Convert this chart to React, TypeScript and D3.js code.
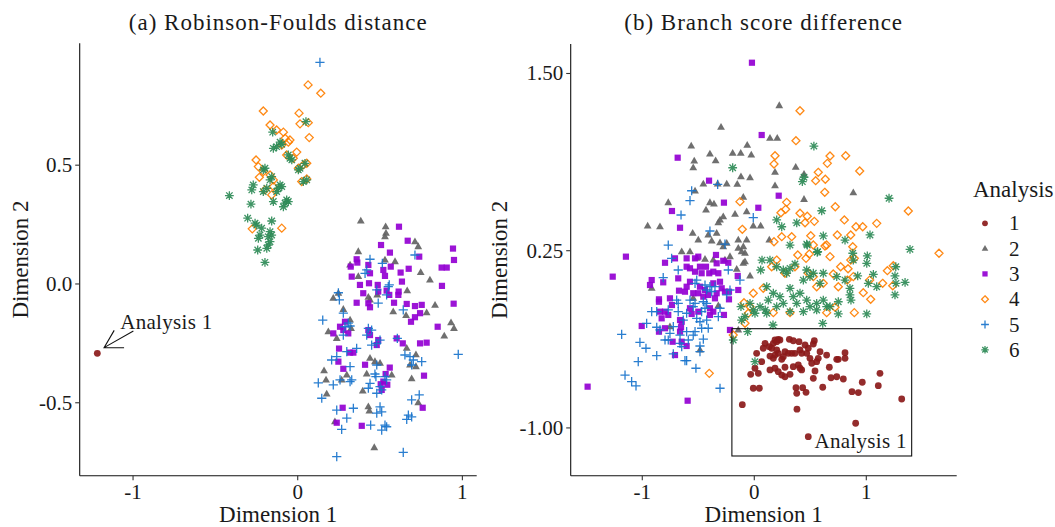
import React from "react";
import * as d3 from "d3";

const W = 1055;
const H = 527;
const FONT = "'Liberation Serif', 'Times New Roman', serif";

const analyses = ["1", "2", "3", "4", "5", "6"];
const colors = ["#8B1A1A", "#636363", "#9400D3", "#FF7F00", "#1874CD", "#2E8B57"];

// ---------- (a) Robinson-Foulds distance ----------
const rfXTicks = [-1, 0, 1];
const rfYTicks = [-0.5, 0, 0.5];
const rfXTickLabels = ["-1", "0", "1"];
const rfYTickLabels = ["-0.5", "0.0", "0.5"];

const rf1: [number, number][] = [[-1.217, -0.292]];
const rf2: [number, number][] = [
  [0.383, 0.265], [0.534, 0.241], [0.536, 0.213], [0.53, 0.199], [0.368, 0.136], [0.712, 0.178],
  [0.732, 0.157], [0.53, 0.101], [0.591, 0.094], [0.318, 0.08], [0.368, 0.031], [0.747, 0.048],
  [0.803, 0.017], [0.665, -0.029], [0.483, -0.046], [0.439, -0.067], [0.429, -0.056], [0.216, -0.06],
  [0.247, -0.039], [0.58, -0.117], [0.658, -0.133], [0.783, -0.121], [0.834, -0.09], [0.931, -0.163],
  [0.949, -0.187], [0.89, -0.219], [0.186, -0.201], [0.237, -0.229], [0.277, -0.107], [0.318, -0.152],
  [0.662, -0.271], [0.718, -0.298], [0.439, -0.313], [0.469, -0.327], [0.682, -0.341], [0.718, -0.348],
  [0.16, -0.365], [0.172, -0.404], [0.298, -0.383], [0.267, -0.404], [0.419, -0.379], [0.571, -0.383],
  [0.692, -0.399], [0.395, -0.451], [0.176, -0.463], [0.732, -0.5], [0.429, -0.517], [0.435, -0.535],
  [0.226, -0.58], [0.465, -0.689], [0.5, -0.334], [0.324, -0.187],
];
const rf3: [number, number][] = [
  [0.615, 0.241], [0.506, 0.164], [0.668, 0.182], [0.56, 0.132], [0.738, 0.115], [0.943, 0.149],
  [0.949, 0.101], [0.358, 0.104], [0.362, 0.09], [0.322, 0.073], [0.328, 0.031], [0.429, 0.08],
  [0.439, 0.045], [0.52, 0.059], [0.53, 0.034], [0.565, 0.073], [0.625, 0.048], [0.633, 0.01],
  [0.674, 0.064], [0.874, 0.069], [0.905, 0.069], [0.876, -0.008], [0.378, -0.004], [0.398, -0.039],
  [0.433, 0.003], [0.486, -0.004], [0.489, -0.032], [0.429, -0.081], [0.439, -0.098], [0.358, -0.079],
  [0.54, -0.028], [0.556, -0.046], [0.585, -0.079], [0.611, -0.046], [0.613, -0.032], [0.662, -0.084],
  [0.712, -0.093], [0.753, -0.088], [0.743, -0.123], [0.712, -0.14], [0.688, -0.159], [0.947, -0.083],
  [0.85, -0.18], [0.257, -0.18], [0.287, -0.159], [0.307, -0.208], [0.216, -0.208], [0.277, -0.194],
  [0.429, -0.194], [0.439, -0.215], [0.489, -0.236], [0.48, -0.257], [0.601, -0.229], [0.638, -0.25],
  [0.743, -0.25], [0.783, -0.247], [0.251, -0.272], [0.247, -0.327], [0.318, -0.289], [0.338, -0.289],
  [0.409, -0.34], [0.559, -0.352], [0.534, -0.379], [0.52, -0.411], [0.504, -0.422], [0.51, -0.446],
  [0.544, -0.424], [0.277, -0.357], [0.767, -0.386], [0.273, -0.521], [0.237, -0.584], [0.389, -0.597],
  [0.759, -0.521],
];
const rf4: [number, number][] = [
  [0.063, 0.838], [0.14, 0.803], [-0.209, 0.728], [0.008, 0.719], [0.014, 0.674], [0.064, 0.679],
  [-0.168, 0.669], [-0.128, 0.648], [-0.087, 0.639], [0.07, 0.616], [-0.077, 0.613], [-0.057, 0.597],
  [-0.097, 0.585], [-0.253, 0.522], [-0.067, 0.543], [-0.006, 0.555], [-0.027, 0.529], [0.004, 0.487],
  [0.034, 0.501], [0.055, 0.508], [-0.239, 0.494], [-0.209, 0.473], [-0.233, 0.449], [-0.168, 0.459],
  [-0.148, 0.438], [0.024, 0.431], [0.055, 0.442], [-0.199, 0.396], [-0.158, 0.375], [-0.148, 0.41],
  [-0.276, 0.232], [-0.097, 0.235], [-0.047, 0.606],
];
const rf5: [number, number][] = [
  [0.135, 0.933], [0.439, 0.104], [0.419, 0.059], [0.409, 0.045], [0.514, 0.087], [0.712, 0.122],
  [0.556, -0.004], [0.55, -0.011], [0.48, -0.025], [0.54, -0.046], [0.489, -0.081], [0.247, -0.037],
  [0.253, -0.067], [0.152, -0.152], [0.277, -0.123], [0.307, -0.165], [0.318, -0.177], [0.287, -0.18],
  [0.277, -0.215], [0.429, -0.187], [0.449, -0.194], [0.419, -0.215], [0.5, -0.236], [0.48, -0.25],
  [0.449, -0.257], [0.605, -0.229], [0.641, -0.109], [0.358, -0.271], [0.318, -0.348], [0.651, -0.299],
  [0.682, -0.306], [0.702, -0.32], [0.692, -0.341], [0.753, -0.327], [0.206, -0.32], [0.237, -0.306],
  [0.298, -0.285], [0.48, -0.341], [0.469, -0.379], [0.475, -0.39], [0.975, -0.296], [0.125, -0.416],
  [0.216, -0.425], [0.257, -0.404], [0.318, -0.411], [0.328, -0.404], [0.439, -0.418], [0.429, -0.439],
  [0.48, -0.46], [0.5, -0.432], [0.51, -0.446], [0.53, -0.39], [0.54, -0.404], [0.146, -0.481],
  [0.738, -0.467], [0.692, -0.488], [0.237, -0.531], [0.338, -0.523], [0.298, -0.565], [0.267, -0.612],
  [0.5, -0.517], [0.51, -0.538], [0.48, -0.544], [0.53, -0.594], [0.54, -0.601], [0.51, -0.615],
  [0.672, -0.552], [0.662, -0.57], [0.692, -0.559], [0.443, -0.594], [0.237, -0.727], [0.641, -0.709],
];
const rf6: [number, number][] = [
  [0.05, 0.683], [-0.152, 0.639], [-0.148, 0.571], [-0.128, 0.578], [-0.097, 0.588], [-0.107, 0.597],
  [-0.057, 0.543], [-0.036, 0.522], [-0.047, 0.529], [0.014, 0.487], [0.044, 0.508], [0.004, 0.48],
  [0.034, 0.431], [0.055, 0.438], [-0.199, 0.487], [-0.209, 0.48], [-0.158, 0.452], [-0.168, 0.438],
  [-0.27, 0.417], [-0.279, 0.396], [-0.107, 0.417], [-0.118, 0.403], [-0.097, 0.41], [-0.128, 0.389],
  [-0.067, 0.354], [-0.077, 0.34], [-0.057, 0.347], [-0.087, 0.325], [-0.148, 0.347], [-0.209, 0.389],
  [-0.188, 0.403], [-0.415, 0.372], [-0.284, 0.336], [-0.304, 0.277], [-0.259, 0.256], [-0.249, 0.248],
  [-0.158, 0.265], [-0.219, 0.235], [-0.229, 0.206], [-0.239, 0.192], [-0.168, 0.22], [-0.179, 0.199],
  [-0.168, 0.178], [-0.179, 0.164], [-0.188, 0.15], [-0.243, 0.143], [-0.199, 0.091], [-0.158, 0.206],
];

// ---------- (b) Branch score difference ----------
const bsXTicks = [-1, 0, 1];
const bsYTicks = [-1, 0.25, 1.5];
const bsXTickLabels = ["-1", "0", "1"];
const bsYTickLabels = ["-1.00", "0.25", "1.50"];

const bs1: [number, number][] = [
  [0.185, -0.38], [0.214, -0.375], [0.17, -0.403], [0.2, -0.392], [0.229, -0.38], [0.096, -0.403],
  [0.08, -0.438], [0.134, -0.427], [0.155, -0.438], [0.313, -0.375], [0.348, -0.385], [0.399, -0.392],
  [0.536, -0.385], [0.527, -0.408], [0.453, -0.415], [0.482, -0.438], [0.2, -0.45], [0.214, -0.474],
  [0.185, -0.486], [0.274, -0.462], [0.304, -0.474], [0.334, -0.474], [0.363, -0.474], [0.408, -0.45],
  [0.423, -0.474], [0.468, -0.474], [0.497, -0.509], [0.587, -0.462], [0.646, -0.486], [0.81, -0.469],
  [0.81, -0.509], [0.736, -0.516], [0.75, -0.516], [0.021, -0.474], [0.14, -0.493], [0.17, -0.509],
  [0.259, -0.498], [0.245, -0.516], [0.571, -0.509], [0.557, -0.533], [0.513, -0.544], [0.066, -0.533],
  [0.006, -0.579], [0.036, -0.615], [-0.032, -0.622], [0.14, -0.591], [0.185, -0.579], [0.214, -0.603],
  [0.245, -0.627], [0.274, -0.639], [0.319, -0.622], [0.274, -0.572], [0.348, -0.568], [0.393, -0.556],
  [0.408, -0.579], [0.423, -0.591], [0.542, -0.598], [0.67, -0.572], [0.527, -0.65], [0.685, -0.646],
  [0.736, -0.639], [0.795, -0.655], [0.964, -0.678], [1.122, -0.615], [1.107, -0.702], [-0.009, -0.72],
  [0.045, -0.72], [0.372, -0.716], [0.432, -0.716], [0.379, -0.756], [0.462, -0.749], [0.611, -0.713],
  [0.872, -0.744], [0.929, -0.751], [1.316, -0.796], [-0.107, -0.836], [0.381, -0.868], [0.905, -0.967],
  [0.482, -1.062],
];
const bs2: [number, number][] = [
  [0.223, 1.273], [-0.297, 1.12], [0.14, 1.043], [0.205, 1.043], [-0.063, 0.993], [-0.563, 0.988],
  [-0.396, 0.932], [-0.345, 0.885], [-0.193, 0.937], [-0.121, 0.937], [-0.027, 0.925], [-0.536, 0.883],
  [-0.545, 0.835], [0.37, 0.838], [0.185, 0.803], [0.444, 0.789], [-0.119, 0.772], [-0.038, 0.765],
  [0.185, 0.708], [-0.455, 0.72], [-0.529, 0.671], [-0.327, 0.72], [-0.246, 0.72], [-0.152, 0.718],
  [0.884, 0.659], [-0.098, 0.627], [0.444, 0.612], [-0.768, 0.589], [-0.431, 0.537], [-0.396, 0.589],
  [-0.36, 0.579], [-0.306, 0.467], [-0.277, 0.49], [-0.321, 0.447], [-0.172, 0.507], [-0.068, 0.525],
  [-0.009, 0.424], [0.057, 0.424], [-0.952, 0.424], [-0.842, 0.419], [-0.55, 0.373], [-0.5, 0.325],
  [-0.411, 0.361], [-0.38, 0.318], [-0.336, 0.373], [-0.306, 0.306], [-0.246, 0.302], [-0.277, 0.278],
  [-0.143, 0.325], [-0.068, 0.325], [-0.143, 0.267], [-0.098, 0.278], [-0.083, 0.232], [-0.113, 0.243],
  [0.134, 0.325], [-0.648, 0.243], [-0.574, 0.243], [-0.44, 0.189], [-0.514, 0.196], [-0.366, 0.184],
  [-0.262, 0.184], [-0.217, 0.208], [-0.083, 0.172], [-0.098, 0.161], [-0.157, 0.119], [-0.038, 0.072],
  [-0.916, -0.015], [-0.753, -0.286], [-0.485, -0.45], [-0.143, -0.309], [-0.321, -0.138], [-0.545, -0.086],
];
const bs3: [number, number][] = [
  [-0.021, 1.576], [0.066, 1.066], [-0.684, 0.906], [-0.404, 0.744], [0.218, 0.638], [-0.271, 0.589],
  [0.036, 0.553], [-0.735, 0.53], [-0.663, 0.412], [-1.146, 0.208], [-1.264, 0.067], [-1.488, -0.709],
  [-0.595, -0.808], [-0.797, 0.165], [-0.708, 0.196], [-0.604, 0.196], [-0.529, 0.196], [-0.5, 0.208],
  [-0.574, 0.126], [-0.604, 0.137], [-0.485, 0.137], [-0.431, 0.137], [-0.529, 0.102], [-0.47, 0.091],
  [-0.402, 0.091], [-0.342, 0.22], [-0.336, 0.161], [-0.277, 0.179], [-0.232, 0.165], [-0.366, 0.102],
  [-0.321, 0.091], [-0.916, 0.043], [-0.931, 0.008], [-0.813, 0.027], [-0.679, 0.055], [-0.574, 0.031],
  [-0.604, -0.004], [-0.619, -0.039], [-0.545, -0.05], [-0.485, -0.004], [-0.44, -0.027], [-0.5, -0.05],
  [-0.411, -0.062], [-0.455, -0.074], [-0.366, 0.02], [-0.306, 0.031], [-0.291, -0.015], [-0.262, -0.039],
  [-0.336, -0.05], [-0.351, -0.086], [-0.148, 0.072], [-0.143, -0.027], [-0.226, -0.039], [-0.226, -0.093],
  [-0.672, -0.032], [-0.851, -0.093], [-0.851, -0.11], [-0.753, -0.086], [-0.735, -0.133], [-0.842, -0.18],
  [-0.827, -0.227], [-0.768, -0.203], [-0.797, -0.18], [-0.663, -0.239], [-0.648, -0.251], [-0.559, -0.196],
  [-0.574, -0.156], [-0.5, -0.18], [-0.396, -0.156], [-0.366, -0.18], [-0.396, -0.203], [-0.271, -0.203],
  [-1.005, -0.281], [-0.851, -0.321], [-0.797, -0.297], [-0.663, -0.321], [-0.654, -0.29], [-0.729, -0.392],
  [-0.648, -0.392], [-0.604, -0.422], [-0.708, -0.486], [-0.217, -0.309],
];
const bs4: [number, number][] = [
  [0.408, 1.237], [0.372, 1.026], [0.185, 0.92], [0.176, 0.861], [0.676, 0.918], [0.652, 0.866],
  [0.816, 0.92], [0.571, 0.803], [0.548, 0.744], [0.634, 0.754], [0.941, 0.812], [0.629, 0.662],
  [-0.128, 0.596], [0.289, 0.591], [0.238, 0.518], [0.28, 0.542], [0.723, 0.56], [1.375, 0.53],
  [-0.107, 0.401], [0.408, 0.514], [0.473, 0.493], [0.536, 0.457], [0.453, 0.447], [0.804, 0.467],
  [1.093, 0.443], [0.908, 0.419], [0.968, 0.419], [0.245, 0.349], [0.334, 0.349], [0.176, 0.313],
  [0.504, 0.356], [0.527, 0.29], [0.741, 0.361], [0.861, 0.361], [0.646, 0.29], [0.631, 0.283],
  [0.879, 0.278], [1.649, 0.232], [0.2, 0.184], [0.388, 0.22], [0.462, 0.196], [0.491, 0.227],
  [0.676, 0.208], [0.861, 0.184], [0.893, 0.196], [0.771, 0.137], [0.837, 0.123], [0.155, 0.137],
  [0.274, 0.091], [0.363, 0.137], [0.482, 0.091], [1.188, 0.109], [1.241, 0.144], [0.705, 0.086],
  [0.83, 0.043], [0.884, 0.067], [1.03, 0.043], [1.146, 0.02], [1.236, 0.003], [0.973, -0.046],
  [1.039, -0.093], [0.08, -0.015], [-0.009, -0.05], [0.527, 0.067], [0.557, -0.004], [0.616, 0.02],
  [0.75, -0.004], [-0.092, -0.117], [-0.038, -0.145], [-0.054, -0.191], [0.17, -0.187], [0.319, -0.187],
  [0.646, -0.187], [0.721, -0.149], [0.893, -0.187], [-0.188, -0.345], [-0.083, -0.262], [-0.402, -0.615],
];
const bs5: [number, number][] = [
  [-0.559, 0.673], [-0.574, 0.603], [-0.327, 0.718], [-0.654, 0.502], [-0.009, 0.483], [-0.396, 0.389],
  [-0.768, 0.29], [-0.738, 0.196], [-0.679, 0.114], [-0.813, 0.06], [-0.262, 0.297], [-0.232, 0.114],
  [-0.128, 0.043], [-0.514, 0.043], [-0.529, 0.02], [-0.44, 0.008], [-0.396, -0.004], [-0.425, -0.027],
  [-0.38, -0.039], [-0.351, -0.004], [-0.246, -0.062], [-0.217, -0.027], [-0.693, -0.098], [-0.679, -0.121],
  [-0.574, -0.098], [-0.529, -0.121], [-0.545, -0.145], [-0.455, -0.11], [-0.425, -0.121], [-0.44, -0.156],
  [-0.47, -0.18], [-0.306, -0.156], [-0.321, -0.215], [-0.916, -0.18], [-0.871, -0.18], [-0.768, -0.168],
  [-0.679, -0.18], [-0.604, -0.191], [-0.634, -0.239], [-0.514, -0.227], [-0.485, -0.251], [-0.425, -0.239],
  [-0.411, -0.297], [-0.47, -0.297], [-0.961, -0.262], [-0.871, -0.29], [-0.842, -0.309], [-0.723, -0.286],
  [-0.753, -0.333], [-0.663, -0.345], [-0.604, -0.321], [-0.545, -0.345], [-0.529, -0.321], [-0.797, -0.38],
  [-0.768, -0.38], [-0.589, -0.38], [-0.455, -0.373], [-1.184, -0.34], [-1.021, -0.396], [-0.967, -0.438],
  [-0.663, -0.403], [-0.648, -0.427], [-0.485, -0.422], [-0.485, -0.462], [-0.871, -0.49], [-0.723, -0.478],
  [-1.036, -0.533], [-0.619, -0.526], [-0.604, -0.526], [-0.521, -0.579], [-1.154, -0.627], [-1.095, -0.674],
  [-1.056, -0.704], [-0.306, -0.72],
];
const bs6: [number, number][] = [
  [0.532, 0.988], [-0.193, 0.835], [0.429, 0.737], [0.444, 0.768], [1.203, 0.62], [0.602, 0.532],
  [0.2, 0.467], [0.245, 0.419], [0.379, 0.447], [1.033, 0.361], [0.616, 0.354], [0.319, 0.29],
  [0.468, 0.297], [0.566, 0.243], [0.81, 0.325], [0.879, 0.232], [0.884, 0.184], [1.009, 0.213],
  [1.004, 0.161], [1.39, 0.26], [1.263, 0.137], [1.256, 0.072], [1.063, 0.083], [0.923, 0.072],
  [1.093, -0.004], [1.346, 0.027], [0.736, 0.067], [0.81, 0.043], [0.854, -0.015], [0.854, -0.062],
  [0.75, -0.11], [0.75, -0.196], [1.004, -0.196], [0.611, -0.262], [0.167, -0.274], [-0.059, -0.321],
  [-0.188, -0.38], [0.006, -0.533], [0.616, 0.091], [0.587, 0.02], [0.069, 0.184], [0.057, 0.114],
  [0.14, 0.184], [0.2, 0.137], [0.259, 0.114], [0.319, 0.126], [0.289, 0.091], [0.363, 0.156],
  [0.468, 0.114], [0.497, 0.067], [0.438, 0.043], [0.527, 0.091], [0.111, -0.004], [0.17, -0.05],
  [0.125, -0.098], [0.229, -0.074], [0.259, -0.121], [0.2, -0.145], [0.319, -0.015], [0.348, -0.074],
  [0.408, -0.05], [0.379, -0.121], [0.468, -0.098], [0.497, -0.145], [0.557, -0.121], [0.616, -0.098],
  [0.676, -0.145], [0.319, -0.18], [0.438, -0.18], [0.557, -0.168], [0.646, -0.145], [-0.038, -0.121],
  [-0.009, -0.168], [0.051, -0.145], [-0.119, -0.145], [-0.083, -0.215], [0.006, -0.191], [0.098, -0.168],
  [0.111, -0.191], [1.018, 0.02], [1.265, 0.02], [1.256, -0.062], [0.863, -0.098], [0.473, 0.29],
  [0.562, 0.239], [-0.113, -0.239],
];

const rfSeries = [rf1, rf2, rf3, rf4, rf5, rf6];
const bsSeries = [bs1, bs2, bs3, bs4, bs5, bs6];

// Annotation data
const rfLabelPos: [number, number] = [-1.078, -0.16];
const rfArrowFrom: [number, number] = [-0.998, -0.198];
const rfArrowTo: [number, number] = [-1.176, -0.268];
const bsRect = { x0: -0.2, x1: 1.405, y0: -1.198, y1: -0.3 };
const bsLabelPos: [number, number] = [1.361, -1.141];

function Marker({ k, x, y, s = 1 }: { k: number; x: number; y: number; s?: number }) {
  const c = colors[k];
  const op = 0.92;
  switch (k) {
    case 0:
      return <circle cx={x} cy={y} r={3.4 * s} fill={c} opacity={op} />;
    case 1: {
      const hw = 3.9 * s;
      return (
        <path
          d={`M${x},${y - 4.3 * s}L${x + hw},${y + 2.5 * s}L${x - hw},${y + 2.5 * s}Z`}
          fill={c}
          opacity={op}
        />
      );
    }
    case 2: {
      const h = 3.1 * s;
      return <rect x={x - h} y={y - h} width={2 * h} height={2 * h} fill={c} opacity={op} />;
    }
    case 3: {
      const h = 4.0 * s;
      return (
        <path
          d={`M${x},${y - h}L${x + h},${y}L${x},${y + h}L${x - h},${y}Z`}
          fill="none"
          stroke={c}
          strokeWidth={1.3}
          opacity={op}
        />
      );
    }
    case 4: {
      const h = 4.6 * s;
      return (
        <path
          d={`M${x - h},${y}H${x + h}M${x},${y - h}V${y + h}`}
          stroke={c}
          strokeWidth={1.3}
          opacity={op}
        />
      );
    }
    default: {
      const h = 4.4 * s;
      const d = 3.2 * s;
      return (
        <path
          d={`M${x - h},${y}H${x + h}M${x},${y - h}V${y + h}M${x - d},${y - d}L${x + d},${y + d}M${x - d},${y + d}L${x + d},${y - d}`}
          stroke={c}
          strokeWidth={1.3}
          opacity={op}
        />
      );
    }
  }
}

type PanelProps = {
  title: string;
  left: number;
  right: number;
  top: number;
  bottom: number;
  xDomain: [number, number];
  yDomain: [number, number];
  xTicks: number[];
  yTicks: number[];
  xTickLabels: string[];
  yTickLabels: string[];
  series: [number, number][][];
  yTitleX: number;
  kind: "rf" | "bs";
};

function Panel(p: PanelProps) {
  const x = d3.scaleLinear().domain(p.xDomain).range([p.left, p.right]);
  const y = d3.scaleLinear().domain(p.yDomain).range([p.bottom, p.top]);
  const tickLen = 4.5;
  const cx = (p.left + p.right) / 2;
  const cy = (p.top + p.bottom) / 2;

  let annot: React.ReactNode = null;
  if (p.kind === "rf") {
    const x1 = x(rfArrowFrom[0]);
    const y1 = y(rfArrowFrom[1]);
    const x2 = x(rfArrowTo[0]);
    const y2 = y(rfArrowTo[1]);
    const ang = Math.atan2(y1 - y2, x1 - x2);
    const L = 20;
    const a1 = ang + Math.PI / 6;
    const a2 = ang - Math.PI / 6;
    annot = (
      <g>
        <path
          d={`M${x1},${y1}L${x2},${y2}M${x2 + L * Math.cos(a1)},${y2 + L * Math.sin(a1)}L${x2},${y2}L${x2 + L * Math.cos(a2)},${y2 + L * Math.sin(a2)}`}
          stroke="#111"
          strokeWidth={1.1}
          fill="none"
        />
        <text
          x={x(rfLabelPos[0])}
          y={y(rfLabelPos[1])}
          fontSize={21}
          fill="#1a1a1a"
          dominantBaseline="central"
          letterSpacing={0.3}
        >
          Analysis 1
        </text>
      </g>
    );
  } else {
    annot = (
      <g>
        <rect
          x={x(bsRect.x0)}
          y={y(bsRect.y1)}
          width={x(bsRect.x1) - x(bsRect.x0)}
          height={y(bsRect.y0) - y(bsRect.y1)}
          fill="none"
          stroke="#111"
          strokeWidth={1.1}
        />
        <text
          x={x(bsLabelPos[0])}
          y={y(bsLabelPos[1])}
          fontSize={21}
          fill="#1a1a1a"
          textAnchor="end"
          letterSpacing={0.3}
        >
          Analysis 1
        </text>
      </g>
    );
  }

  return (
    <g>
      <text x={cx} y={30} textAnchor="middle" fontSize={23} fill="#1a1a1a" letterSpacing={1}>
        {p.title}
      </text>
      <g>
        {p.series.map((pts, k) => (
          <g key={k}>
            {pts.map((d, i) => (
              <Marker key={i} k={k} x={x(d[0])} y={y(d[1])} />
            ))}
          </g>
        ))}
      </g>
      {annot}
      <line x1={p.left} x2={p.right} y1={p.bottom} y2={p.bottom} stroke="#111" strokeWidth={1.1} />
      <line x1={p.left} x2={p.left} y1={p.top} y2={p.bottom} stroke="#111" strokeWidth={1.1} />
      {p.xTicks.map((t, i) => (
        <g key={"xt" + i}>
          <line x1={x(t)} x2={x(t)} y1={p.bottom} y2={p.bottom + tickLen} stroke="#333" strokeWidth={1.1} />
          <text x={x(t)} y={p.bottom + 23.5} textAnchor="middle" fontSize={21} fill="#1a1a1a">
            {p.xTickLabels[i]}
          </text>
        </g>
      ))}
      {p.yTicks.map((t, i) => (
        <g key={"yt" + i}>
          <line x1={p.left - tickLen} x2={p.left} y1={y(t)} y2={y(t)} stroke="#333" strokeWidth={1.1} />
          <text
            x={p.left - tickLen - 3}
            y={y(t)}
            textAnchor="end"
            dominantBaseline="central"
            fontSize={21}
            fill="#1a1a1a"
          >
            {p.yTickLabels[i]}
          </text>
        </g>
      ))}
      <text x={cx} y={522} textAnchor="middle" fontSize={23} fill="#1a1a1a">
        Dimension 1
      </text>
      <text
        transform={`translate(${p.yTitleX},${cy}) rotate(-90)`}
        textAnchor="middle"
        fontSize={23}
        fill="#1a1a1a"
      >
        Dimension 2
      </text>
    </g>
  );
}

function Legend() {
  const y0 = 223.3;
  const step = 25.3;
  return (
    <g>
      <text x={973} y={197} fontSize={23} fill="#1a1a1a">
        Analysis
      </text>
      {analyses.map((a, i) => (
        <g key={a}>
          <Marker k={i} x={985} y={y0 + i * step} s={0.85} />
          <text x={1009} y={y0 + i * step} dominantBaseline="central" fontSize={21} fill="#1a1a1a">
            {a}
          </text>
        </g>
      ))}
    </g>
  );
}

export default function App() {
  return (
    <svg
      width={W}
      height={H}
      style={{ position: "absolute", left: 0, top: 0, background: "#fff" }}
      fontFamily={FONT}
    >
      <rect width={W} height={H} fill="#fff" />
      <Panel
        kind="rf"
        title="(a) Robinson-Foulds distance"
        left={79.7}
        right={476.7}
        top={43.3}
        bottom={475.7}
        xDomain={[-1.324, 1.087]}
        yDomain={[-0.807, 1.013]}
        xTicks={rfXTicks}
        yTicks={rfYTicks}
        xTickLabels={rfXTickLabels}
        yTickLabels={rfYTickLabels}
        series={rfSeries}
        yTitleX={28}
      />
      <Panel
        kind="bs"
        title="(b) Branch score difference"
        left={570.7}
        right={956.7}
        top={44}
        bottom={475.7}
        xDomain={[-1.639, 1.807]}
        yDomain={[-1.337, 1.708]}
        xTicks={bsXTicks}
        yTicks={bsYTicks}
        xTickLabels={bsXTickLabels}
        yTickLabels={bsYTickLabels}
        series={bsSeries}
        yTitleX={507}
      />
      <Legend />
    </svg>
  );
}
